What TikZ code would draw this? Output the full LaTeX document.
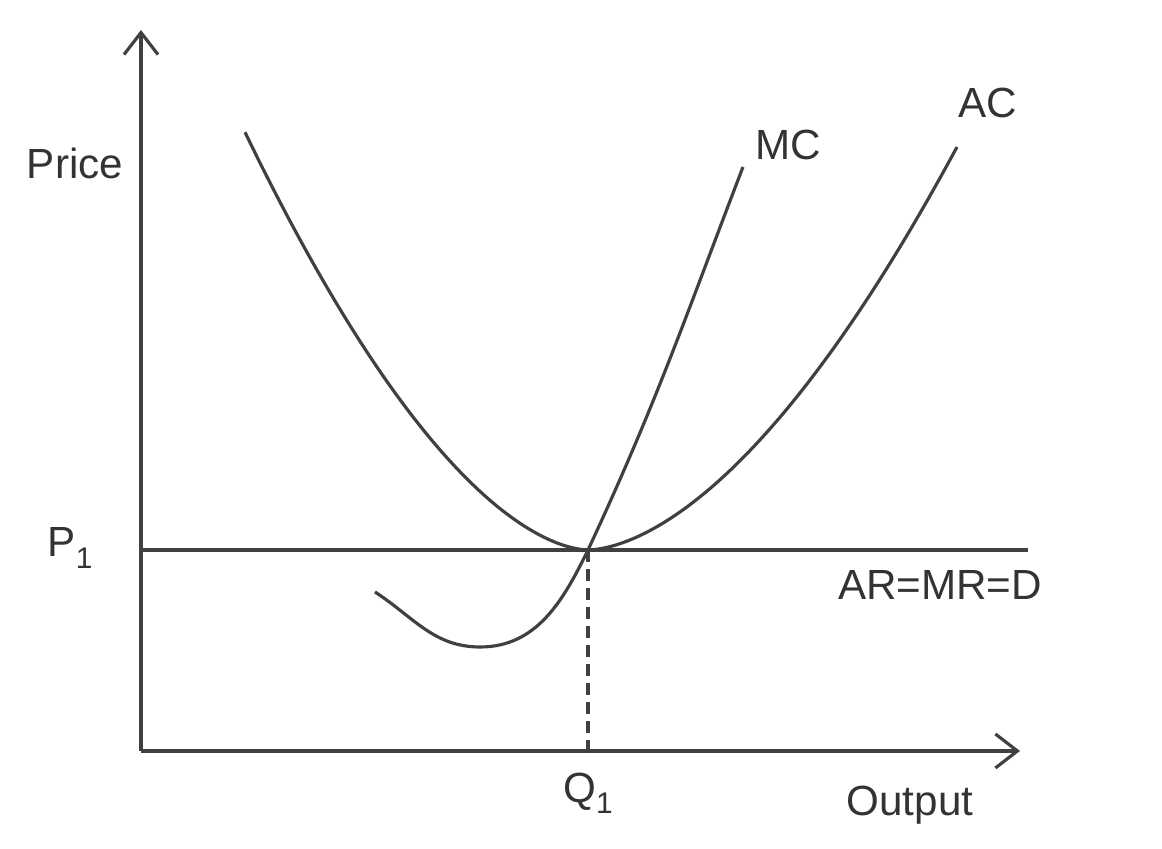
\documentclass[tikz,border=0pt]{standalone}
\usepackage{fontspec}
\setmainfont{Liberation Sans}
\usetikzlibrary{arrows.meta, positioning}

\newcommand{\lowsub}[1]{\raisebox{-0.5ex}{\fontsize{8.5}{9}\selectfont #1}}

\begin{document}
\begin{tikzpicture}[
  curve/.style={line width=0.9pt, draw=black!75},
  axis/.style={curve, -{Straight Barb[length=2.2mm, width=3.4mm]}},
  lbl/.style={font=\fontsize{12}{14}\selectfont, text=black!80, inner sep=0pt}
]
\useasboundingbox (0,0) rectangle (11.62,8.49);

% Axes
\coordinate (O) at (1.41,0.98);
\coordinate (ytop) at (1.41,8.19);
\coordinate (xend) at (10.20,0.98);
\draw[axis] (O) -- (ytop);
\draw[axis] (O) -- (xend);
\node[lbl] (price) at (0.75,6.86) {Price};
\node[lbl] (output) at (9.10,0.44) {Output};

% Price line AR=MR=D
\coordinate (p1) at (1.41,2.99);
\coordinate (dend) at (10.28,2.99);
\coordinate (E) at (5.88,2.99);
\draw[curve] (p1) -- (dend);
\node[lbl] (P1) at (0.70,3.01) {P\lowsub{1}};
\node[lbl] (D) at (9.40,2.64) {AR=MR=D};

% Output Q1
\coordinate (q1) at (5.88,0.98);
\draw[curve, dash pattern=on 1.2mm off 0.7mm] (E) -- (q1);
\node[lbl] (Q1) at (5.88,0.56) {Q\lowsub{1}};

% Average cost, minimum at E
\draw[curve] plot[domain=2.45:9.57, samples=120]
  (\x, {2.99 + (\x<5.88 ? 0.514 : 0.438)*(abs(\x-5.88)+0.0001)^1.7});
\node[lbl] (AC) at (9.88,7.46) {AC};

% Marginal cost, cuts AC at E
\coordinate (mcL) at (3.75,2.57);
\coordinate (mcMin) at (4.80,2.02);
\coordinate (mcR) at (7.43,6.82);
\draw[curve] (mcL) to[out=-33, in=180] (mcMin)
  to[out=0, in=-116] (E) to[out=65, in=-111] (mcR);
\node[lbl] (MC) at (7.88,7.04) {MC};
\end{tikzpicture}
\end{document}
